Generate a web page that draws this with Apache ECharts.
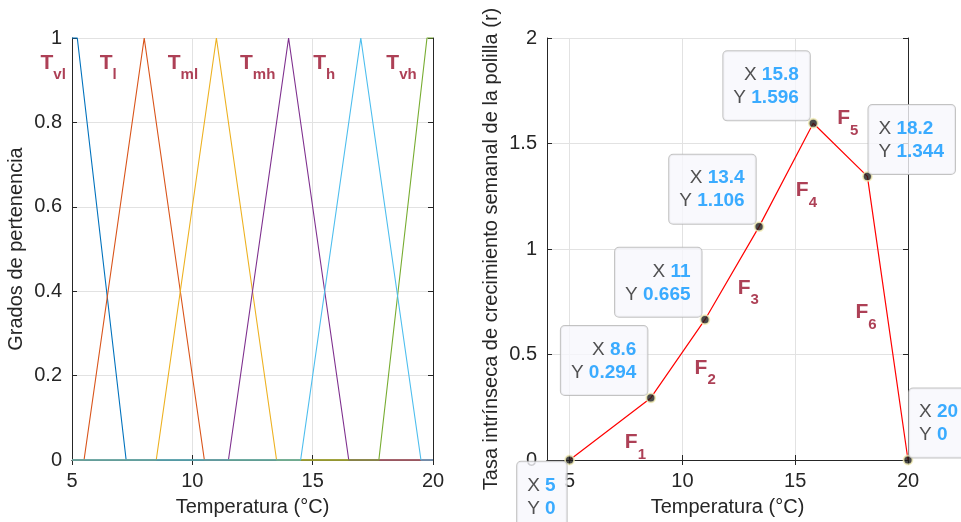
<!DOCTYPE html>
<html>
<head>
<meta charset="utf-8">
<title>Funciones de pertenencia y tasa de crecimiento</title>
<script src="https://cdn.jsdelivr.net/npm/echarts@6/dist/echarts.min.js"></script>
<style>
  html, body { margin: 0; padding: 0; background: #ffffff; }
  #chart { width: 961px; height: 522px; }
</style>
</head>
<body>
<div id="chart"></div>
<script>
// ---- membership functions (left panel) ----
const tempTicks = [5, 10, 15, 20];
const mfNames = ['vl', 'l', 'ml', 'mh', 'vh', 'h'];
const mfVl = [[5, 1], [5.22, 1], [7.25, 0], [20, 0]];
const mfL  = [[5, 0], [5.5, 0], [8, 1], [10.5, 0], [20, 0]];
const mfMl = [[5, 0], [8.5, 0], [11, 1], [13.5, 0], [20, 0]];
const mfMh = [[5, 0], [11.5, 0], [14, 1], [16.5, 0], [20, 0]];
const mfVh = [[5, 0], [17.75, 0], [19.75, 1], [20, 1]];
const mfH  = [[5, 0], [14.5, 0], [17, 1], [19.5, 0], [20, 0]];
const mfData = [mfVl, mfL, mfMl, mfMh, mfVh, mfH];
// label anchors (data units) for the T subscripts
const mfLabelX = [3.69, 6.15, 8.98, 11.98, 18.06, 15.02];
const mfLabelY = [0.94, 0.94, 0.94, 0.94, 0.94, 0.94];

// ---- growth rate (right panel) ----
const rTemp = [5, 8.6, 11, 13.4, 15.8, 18.2, 20];
const rRate = [0, 0.294, 0.665, 1.106, 1.596, 1.344, 0];
const tipSide = ['bl', 'tl', 'tl', 'tl', 'tl', 'tr', 'tr'];
const segNames = ['1', '2', '3', '4', '5', '6'];
const segLabelX = [7.45, 10.54, 12.45, 15.03, 16.86, 17.67];
const segLabelY = [0.083, 0.435, 0.814, 1.277, 1.618, 0.699];

const FONT = 'Liberation Sans, Arial, Helvetica, sans-serif';
const AX = '#262626';
const GRIDC = '#e2e2e2';
const LABC = '#98102c';
const mfColors = ['#0072BD', '#D95319', '#EDB120', '#7E2F8E', '#77AC30', '#4DBEEE'];

const subRich = {
  m: { fontSize: 21, fontWeight: 'bold', color: LABC, fontFamily: FONT, lineHeight: 24, verticalAlign: 'middle' },
  s: { fontSize: 15, fontWeight: 'bold', color: LABC, fontFamily: FONT, lineHeight: 16, padding: [24, 0, 0, 0], verticalAlign: 'middle' }
};

function mainX(gridIndex, min) {
  return {
    type: 'value', gridIndex, min, max: 20, position: 'bottom',
    axisLine: { show: true, lineStyle: { color: AX, width: 1 } },
    axisTick: { show: true, inside: true, length: 5, lineStyle: { color: AX }, customValues: tempTicks },
    axisLabel: { color: AX, fontSize: 20, fontFamily: FONT, margin: 11, customValues: tempTicks },
    splitLine: { show: true, lineStyle: { color: GRIDC, width: 1 } },
    name: 'Temperatura (°C)', nameLocation: 'middle', nameGap: 37,
    nameTextStyle: { color: AX, fontSize: 20, fontFamily: FONT }
  };
}
function mirrorX(gridIndex, min) {
  return {
    type: 'value', gridIndex, min, max: 20, position: 'top',
    axisLine: { show: true, lineStyle: { color: AX, width: 1 } },
    axisTick: { show: true, inside: true, length: 5, lineStyle: { color: AX }, customValues: tempTicks },
    axisLabel: { show: false, customValues: tempTicks },
    splitLine: { show: false }
  };
}
function mainY(gridIndex, max, interval, name) {
  return {
    type: 'value', gridIndex, min: 0, max, interval, position: 'left',
    axisLine: { show: true, lineStyle: { color: AX, width: 1 } },
    axisTick: { show: true, inside: true, length: 5, lineStyle: { color: AX } },
    axisLabel: { color: AX, fontSize: 20, fontFamily: FONT, margin: 10 },
    splitLine: { show: true, lineStyle: { color: GRIDC, width: 1 } },
    name, nameLocation: 'middle', nameGap: 46,
    nameTextStyle: { color: AX, fontSize: 20, fontFamily: FONT }
  };
}
function mirrorY(gridIndex, max, interval) {
  return {
    type: 'value', gridIndex, min: 0, max, interval, position: 'right',
    axisLine: { show: true, lineStyle: { color: AX, width: 1 } },
    axisTick: { show: true, inside: true, length: 5, lineStyle: { color: AX } },
    axisLabel: { show: false },
    splitLine: { show: false }
  };
}

const series = [];

// membership triangles / shoulders
mfData.forEach((d, i) => {
  series.push({
    type: 'line', xAxisIndex: 0, yAxisIndex: 0, data: d,
    symbol: 'none', clip: false, silent: true,
    lineStyle: { color: mfColors[i], width: 1.1 },
    z: 2
  });
});

// T labels
series.push({
  type: 'scatter', xAxisIndex: 0, yAxisIndex: 0, symbolSize: 0, clip: false, silent: true,
  data: mfNames.map((n, i) => ({ value: [mfLabelX[i], mfLabelY[i]], name: n })),
  label: {
    show: true, position: 'right', distance: 0,
    formatter: p => '{m|T}{s|' + p.name + '}',
    rich: subRich
  },
  z: 4
});

// growth rate curve
series.push({
  type: 'line', xAxisIndex: 2, yAxisIndex: 2,
  data: rTemp.map((x, i) => [x, rRate[i]]),
  symbol: 'none', clip: false, silent: true,
  lineStyle: { color: '#FF0000', width: 1.2 },
  z: 3
});

// F segment labels
series.push({
  type: 'scatter', xAxisIndex: 2, yAxisIndex: 2, symbolSize: 0, clip: false, silent: true,
  data: segNames.map((n, i) => ({ value: [segLabelX[i], segLabelY[i]], name: n })),
  label: {
    show: true, position: 'right', distance: 0,
    formatter: p => '{m|F}{s|' + p.name + '}',
    rich: subRich
  },
  z: 4
});

// data tips
const tipPlacement = {
  bl: { position: [2.5, 7.2], align: 'right', verticalAlign: 'top' },
  tl: { position: [2, 2.5], align: 'right', verticalAlign: 'bottom' },
  tr: { position: [6.5, 3], align: 'left', verticalAlign: 'bottom' }
};
series.push({
  type: 'scatter', xAxisIndex: 2, yAxisIndex: 2, clip: false, silent: true,
  symbol: 'circle', symbolSize: 9,
  itemStyle: { color: '#1b1b1b', borderColor: '#f4efb8', borderWidth: 1.8 },
  data: rTemp.map((x, i) => ({
    value: [x, rRate[i]],
    label: Object.assign({}, tipPlacement[tipSide[i]])
  })),
  label: {
    show: true,
    formatter: p => '{k|X }{v|' + p.value[0] + '}\n{k|Y }{v|' + p.value[1] + '}',
    backgroundColor: '#f8f8fd',
    borderColor: '#b4b4b4', borderWidth: 1, borderRadius: 4,
    padding: [12, 11, 11, 10],
    rich: {
      k: { color: AX, fontSize: 19, fontFamily: FONT, lineHeight: 23 },
      v: { color: '#0a97ff', fontSize: 19, fontWeight: 'bold', fontFamily: FONT, lineHeight: 23 }
    }
  },
  emphasis: { disabled: true },
  z: 6
});

const chart = echarts.init(document.getElementById('chart'), null, { renderer: 'canvas' });
chart.setOption({
  animation: false,
  backgroundColor: '#ffffff',
  textStyle: { fontFamily: FONT },
  grid: [
    { left: 72, top: 38, width: 361, height: 423 },
    { left: 547, top: 38, width: 361, height: 422 }
  ],
  xAxis: [mainX(0, 5), mirrorX(0, 5), mainX(1, 4), mirrorX(1, 4)],
  yAxis: [
    mainY(0, 1, 0.2, 'Grados de pertenencia'),
    mirrorY(0, 1, 0.2),
    mainY(1, 2, 0.5, 'Tasa intrínseca de crecimiento semanal de la polilla (r)'),
    mirrorY(1, 2, 0.5)
  ],
  series
});
</script>
</body>
</html>
